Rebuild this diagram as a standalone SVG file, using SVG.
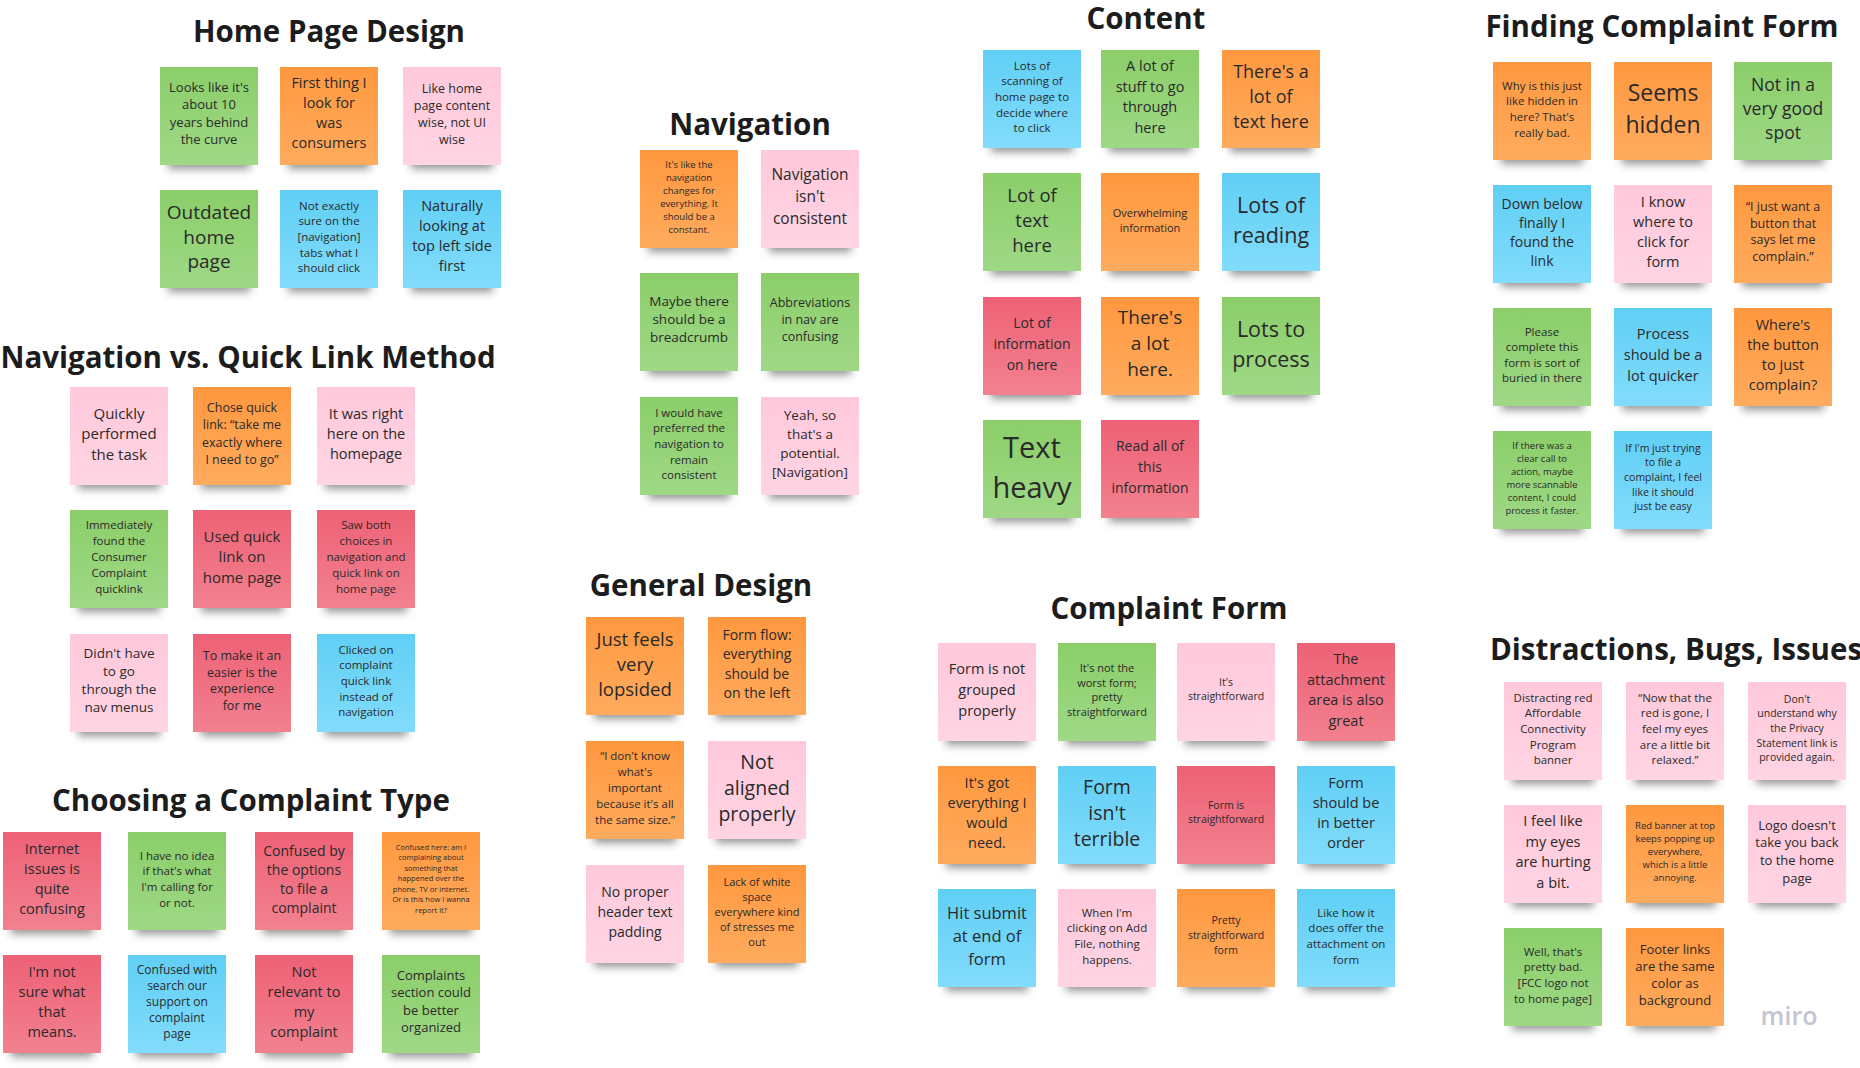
<svg xmlns="http://www.w3.org/2000/svg" width="1860" height="1068" viewBox="0 0 1860 1068">
<defs>
<linearGradient id="gG" x1="0" y1="0" x2="0" y2="1"><stop offset="0" stop-color="#8bce69"/><stop offset="1" stop-color="#9fd886"/></linearGradient>
<linearGradient id="gO" x1="0" y1="0" x2="0" y2="1"><stop offset="0" stop-color="#ff983f"/><stop offset="1" stop-color="#ffab5e"/></linearGradient>
<linearGradient id="gP" x1="0" y1="0" x2="0" y2="1"><stop offset="0" stop-color="#ffc9db"/><stop offset="1" stop-color="#ffd4e3"/></linearGradient>
<linearGradient id="gR" x1="0" y1="0" x2="0" y2="1"><stop offset="0" stop-color="#ee6176"/><stop offset="1" stop-color="#f2818f"/></linearGradient>
<linearGradient id="gB" x1="0" y1="0" x2="0" y2="1"><stop offset="0" stop-color="#60cff5"/><stop offset="1" stop-color="#82dcfb"/></linearGradient>
<filter id="blur" x="-20%" y="-100%" width="140%" height="300%"><feGaussianBlur stdDeviation="4"/></filter>
</defs>
<style>
.s{fill:#2a2a2a;opacity:.5;filter:url(#blur)}
.n{width:98px;height:98px}
.g{fill:url(#gG)}.o{fill:url(#gO)}.p{fill:url(#gP)}.r{fill:url(#gR)}.b{fill:url(#gB)}
.t{font-family:"Open Sans","Noto Sans","Liberation Sans",sans-serif;fill:#2a2a2a;text-anchor:middle;dominant-baseline:central;transform:translateY(-3px)}
.h{font-family:"Open Sans","Noto Sans","Liberation Sans",sans-serif;font-weight:700;font-size:29.5px;fill:#1c1c1c;text-anchor:middle}
.sr{width:82px;height:16px}
</style>
<rect width="1860" height="1068" fill="#ffffff"/>

<g id="headings">
<text class="h" x="329" y="42">Home Page Design</text>
<text class="h" x="248" y="368">Navigation vs. Quick Link Method</text>
<text class="h" x="251" y="811">Choosing a Complaint Type</text>
<text class="h" x="750" y="135">Navigation</text>
<text class="h" x="701" y="596">General Design</text>
<text class="h" x="1146" y="29">Content</text>
<text class="h" x="1169" y="619">Complaint Form</text>
<text class="h" x="1662" y="37">Finding Complaint Form</text>
<text class="h" x="1490" y="660" style="text-anchor:start">Distractions, Bugs, Issues</text>
</g>

<g id="connectors"></g>

<!-- Home Page Design -->
<g id="hp1"><rect class="s sr" x="168" y="153"/><rect class="n g" x="160" y="67"/><text class="t" x="209" y="89.75" font-size="13"><tspan x="209">Looks like it's</tspan><tspan x="209" dy="17.5">about 10</tspan><tspan x="209" dy="17.5">years behind</tspan><tspan x="209" dy="17.5">the curve</tspan></text></g>
<g id="hp2"><rect class="s sr" x="288" y="153"/><rect class="n o" x="280" y="67"/><text class="t" x="329" y="85" font-size="14.5"><tspan x="329">First thing I</tspan><tspan x="329" dy="20">look for</tspan><tspan x="329" dy="20">was</tspan><tspan x="329" dy="20">consumers</tspan></text></g>
<g id="hp3"><rect class="s sr" x="411" y="153"/><rect class="n p" x="403" y="67"/><text class="t" x="452" y="90.5" font-size="12.5"><tspan x="452">Like home</tspan><tspan x="452" dy="17">page content</tspan><tspan x="452" dy="17">wise, not UI</tspan><tspan x="452" dy="17">wise</tspan></text></g>
<g id="hp4"><rect class="s sr" x="168" y="276"/><rect class="n g" x="160" y="190"/><text class="t" x="209" y="215" font-size="19"><tspan x="209">Outdated</tspan><tspan x="209" dy="24.5">home</tspan><tspan x="209" dy="24.5">page</tspan></text></g>
<g id="hp5"><rect class="s sr" x="288" y="276"/><rect class="n b" x="280" y="190"/><text class="t" x="329" y="207.6" font-size="11.5"><tspan x="329">Not exactly</tspan><tspan x="329" dy="15.7">sure on the</tspan><tspan x="329" dy="15.7">[navigation]</tspan><tspan x="329" dy="15.7">tabs what I</tspan><tspan x="329" dy="15.7">should click</tspan></text></g>
<g id="hp6"><rect class="s sr" x="411" y="276"/><rect class="n b" x="403" y="190"/><text class="t" x="452" y="208" font-size="14.5"><tspan x="452">Naturally</tspan><tspan x="452" dy="20">looking at</tspan><tspan x="452" dy="20">top left side</tspan><tspan x="452" dy="20">first</tspan></text></g>

<!-- Navigation vs. Quick Link Method -->
<g id="nq1"><rect class="s sr" x="78" y="473"/><rect class="n p" x="70" y="387"/><text class="t" x="119" y="415.5" font-size="15"><tspan x="119">Quickly</tspan><tspan x="119" dy="20.5">performed</tspan><tspan x="119" dy="20.5">the task</tspan></text></g>
<g id="nq2"><rect class="s sr" x="201" y="473"/><rect class="n o" x="193" y="387"/><text class="t" x="242" y="410" font-size="12.5"><tspan x="242">Chose quick</tspan><tspan x="242" dy="17.3">link: “take me</tspan><tspan x="242" dy="17.3">exactly where</tspan><tspan x="242" dy="17.3">I need to go”</tspan></text></g>
<g id="nq3"><rect class="s sr" x="325" y="473"/><rect class="n p" x="317" y="387"/><text class="t" x="366" y="416" font-size="14.5"><tspan x="366">It was right</tspan><tspan x="366" dy="20">here on the</tspan><tspan x="366" dy="20">homepage</tspan></text></g>
<g id="nq4"><rect class="s sr" x="78" y="596"/><rect class="n g" x="70" y="510"/><text class="t" x="119" y="527" font-size="11.5"><tspan x="119">Immediately</tspan><tspan x="119" dy="16">found the</tspan><tspan x="119" dy="16">Consumer</tspan><tspan x="119" dy="16">Complaint</tspan><tspan x="119" dy="16">quicklink</tspan></text></g>
<g id="nq5"><rect class="s sr" x="201" y="596"/><rect class="n r" x="193" y="510"/><text class="t" x="242" y="538.5" font-size="15"><tspan x="242">Used quick</tspan><tspan x="242" dy="20.5">link on</tspan><tspan x="242" dy="20.5">home page</tspan></text></g>
<g id="nq6"><rect class="s sr" x="325" y="596"/><rect class="n r" x="317" y="510"/><text class="t" x="366" y="527" font-size="11.5"><tspan x="366">Saw both</tspan><tspan x="366" dy="16">choices in</tspan><tspan x="366" dy="16">navigation and</tspan><tspan x="366" dy="16">quick link on</tspan><tspan x="366" dy="16">home page</tspan></text></g>
<g id="nq7"><rect class="s sr" x="78" y="720"/><rect class="n p" x="70" y="634"/><text class="t" x="119" y="655.5" font-size="13.5"><tspan x="119">Didn't have</tspan><tspan x="119" dy="18.3">to go</tspan><tspan x="119" dy="18.3">through the</tspan><tspan x="119" dy="18.3">nav menus</tspan></text></g>
<g id="nq8"><rect class="s sr" x="201" y="720"/><rect class="n r" x="193" y="634"/><text class="t" x="242" y="658" font-size="12.5"><tspan x="242">To make it an</tspan><tspan x="242" dy="16.7">easier is the</tspan><tspan x="242" dy="16.7">experience</tspan><tspan x="242" dy="16.7">for me</tspan></text></g>
<g id="nq9"><rect class="s sr" x="325" y="720"/><rect class="n b" x="317" y="634"/><text class="t" x="366" y="651.6" font-size="11.5"><tspan x="366">Clicked on</tspan><tspan x="366" dy="15.7">complaint</tspan><tspan x="366" dy="15.7">quick link</tspan><tspan x="366" dy="15.7">instead of</tspan><tspan x="366" dy="15.7">navigation</tspan></text></g>

<!-- Choosing a Complaint Type -->
<g id="ct1"><rect class="s sr" x="11" y="918"/><rect class="n r" x="3" y="832"/><text class="t" x="52" y="851" font-size="14.5"><tspan x="52">Internet</tspan><tspan x="52" dy="20">issues is</tspan><tspan x="52" dy="20">quite</tspan><tspan x="52" dy="20">confusing</tspan></text></g>
<g id="ct2"><rect class="s sr" x="136" y="918"/><rect class="n g" x="128" y="832"/><text class="t" x="177" y="857.5" font-size="11.5"><tspan x="177">I have no idea</tspan><tspan x="177" dy="15.7">if that's what</tspan><tspan x="177" dy="15.7">I'm calling for</tspan><tspan x="177" dy="15.7">or not.</tspan></text></g>
<g id="ct3"><rect class="s sr" x="263" y="918"/><rect class="n r" x="255" y="832"/><text class="t" x="304" y="852.5" font-size="14"><tspan x="304">Confused by</tspan><tspan x="304" dy="19">the options</tspan><tspan x="304" dy="19">to file a</tspan><tspan x="304" dy="19">complaint</tspan></text></g>
<g id="ct4"><rect class="s sr" x="390" y="918"/><rect class="n o" x="382" y="832"/><text class="t" x="431" y="849.5" font-size="7.5"><tspan x="431">Confused here: am I</tspan><tspan x="431" dy="10.5">complaining about</tspan><tspan x="431" dy="10.5">something that</tspan><tspan x="431" dy="10.5">happened over the</tspan><tspan x="431" dy="10.5">phone, TV or internet.</tspan><tspan x="431" dy="10.5">Or is this how I wanna</tspan><tspan x="431" dy="10.5">report it?</tspan></text></g>
<g id="ct5"><rect class="s sr" x="11" y="1041"/><rect class="n r" x="3" y="955"/><text class="t" x="52" y="974" font-size="14.5"><tspan x="52">I'm not</tspan><tspan x="52" dy="20">sure what</tspan><tspan x="52" dy="20">that</tspan><tspan x="52" dy="20">means.</tspan></text></g>
<g id="ct6"><rect class="s sr" x="136" y="1041"/><rect class="n b" x="128" y="955"/><text class="t" x="177" y="972" font-size="12"><tspan x="177">Confused with</tspan><tspan x="177" dy="16">search our</tspan><tspan x="177" dy="16">support on</tspan><tspan x="177" dy="16">complaint</tspan><tspan x="177" dy="16">page</tspan></text></g>
<g id="ct7"><rect class="s sr" x="263" y="1041"/><rect class="n r" x="255" y="955"/><text class="t" x="304" y="974" font-size="14.5"><tspan x="304">Not</tspan><tspan x="304" dy="20">relevant to</tspan><tspan x="304" dy="20">my</tspan><tspan x="304" dy="20">complaint</tspan></text></g>
<g id="ct8"><rect class="s sr" x="390" y="1041"/><rect class="n g" x="382" y="955"/><text class="t" x="431" y="978" font-size="13"><tspan x="431">Complaints</tspan><tspan x="431" dy="17.3">section could</tspan><tspan x="431" dy="17.3">be better</tspan><tspan x="431" dy="17.3">organized</tspan></text></g>

<!-- Navigation -->
<g id="nv1"><rect class="s sr" x="648" y="236"/><rect class="n o" x="640" y="150"/><text class="t" x="689" y="166.5" font-size="9.5"><tspan x="689">It's like the</tspan><tspan x="689" dy="13">navigation</tspan><tspan x="689" dy="13">changes for</tspan><tspan x="689" dy="13">everything. It</tspan><tspan x="689" dy="13">should be a</tspan><tspan x="689" dy="13">constant.</tspan></text></g>
<g id="nv2"><rect class="s sr" x="769" y="236"/><rect class="n p" x="761" y="150"/><text class="t" x="810" y="177.3" font-size="15.5"><tspan x="810">Navigation</tspan><tspan x="810" dy="21.7">isn't</tspan><tspan x="810" dy="21.7">consistent</tspan></text></g>
<g id="nv3"><rect class="s sr" x="648" y="359"/><rect class="n g" x="640" y="273"/><text class="t" x="689" y="303.7" font-size="13.5"><tspan x="689">Maybe there</tspan><tspan x="689" dy="18.3">should be a</tspan><tspan x="689" dy="18.3">breadcrumb</tspan></text></g>
<g id="nv4"><rect class="s sr" x="769" y="359"/><rect class="n g" x="761" y="273"/><text class="t" x="810" y="305.3" font-size="12.5"><tspan x="810">Abbreviations</tspan><tspan x="810" dy="16.7">in nav are</tspan><tspan x="810" dy="16.7">confusing</tspan></text></g>
<g id="nv5"><rect class="s sr" x="648" y="483"/><rect class="n g" x="640" y="397"/><text class="t" x="689" y="414.6" font-size="11.5"><tspan x="689">I would have</tspan><tspan x="689" dy="15.7">preferred the</tspan><tspan x="689" dy="15.7">navigation to</tspan><tspan x="689" dy="15.7">remain</tspan><tspan x="689" dy="15.7">consistent</tspan></text></g>
<g id="nv6"><rect class="s sr" x="769" y="483"/><rect class="n p" x="761" y="397"/><text class="t" x="810" y="417.5" font-size="13.5"><tspan x="810">Yeah, so</tspan><tspan x="810" dy="19">that's a</tspan><tspan x="810" dy="19">potential.</tspan><tspan x="810" dy="19">[Navigation]</tspan></text></g>

<!-- General Design -->
<g id="gd1"><rect class="s sr" x="594" y="703"/><rect class="n o" x="586" y="617"/><text class="t" x="635" y="641" font-size="18.5"><tspan x="635">Just feels</tspan><tspan x="635" dy="25">very</tspan><tspan x="635" dy="25">lopsided</tspan></text></g>
<g id="gd2"><rect class="s sr" x="716" y="703"/><rect class="n o" x="708" y="617"/><text class="t" x="757" y="637" font-size="14"><tspan x="757">Form flow:</tspan><tspan x="757" dy="19.3">everything</tspan><tspan x="757" dy="19.3">should be</tspan><tspan x="757" dy="19.3">on the left</tspan></text></g>
<g id="gd3"><rect class="s sr" x="594" y="827"/><rect class="n o" x="586" y="741"/><text class="t" x="635" y="758" font-size="11.5"><tspan x="635">“I don't know</tspan><tspan x="635" dy="16">what's</tspan><tspan x="635" dy="16">important</tspan><tspan x="635" dy="16">because it's all</tspan><tspan x="635" dy="16">the same size.”</tspan></text></g>
<g id="gd4"><rect class="s sr" x="716" y="827"/><rect class="n p" x="708" y="741"/><text class="t" x="757" y="764" font-size="19.5"><tspan x="757">Not</tspan><tspan x="757" dy="26">aligned</tspan><tspan x="757" dy="26">properly</tspan></text></g>
<g id="gd5"><rect class="s sr" x="594" y="951"/><rect class="n p" x="586" y="865"/><text class="t" x="635" y="894" font-size="14"><tspan x="635">No proper</tspan><tspan x="635" dy="20">header text</tspan><tspan x="635" dy="20">padding</tspan></text></g>
<g id="gd6"><rect class="s sr" x="716" y="951"/><rect class="n o" x="708" y="865"/><text class="t" x="757" y="884" font-size="11"><tspan x="757">Lack of white</tspan><tspan x="757" dy="15">space</tspan><tspan x="757" dy="15">everywhere kind</tspan><tspan x="757" dy="15">of stresses me</tspan><tspan x="757" dy="15">out</tspan></text></g>

<!-- Content -->
<g id="cn1"><rect class="s sr" x="991" y="136"/><rect class="n b" x="983" y="50"/><text class="t" x="1032" y="67.6" font-size="11.5"><tspan x="1032">Lots of</tspan><tspan x="1032" dy="15.7">scanning of</tspan><tspan x="1032" dy="15.7">home page to</tspan><tspan x="1032" dy="15.7">decide where</tspan><tspan x="1032" dy="15.7">to click</tspan></text></g>
<g id="cn2"><rect class="s sr" x="1109" y="136"/><rect class="n g" x="1101" y="50"/><text class="t" x="1150" y="68" font-size="14.5"><tspan x="1150">A lot of</tspan><tspan x="1150" dy="20.7">stuff to go</tspan><tspan x="1150" dy="20.7">through</tspan><tspan x="1150" dy="20.7">here</tspan></text></g>
<g id="cn3"><rect class="s sr" x="1230" y="136"/><rect class="n o" x="1222" y="50"/><text class="t" x="1271" y="74" font-size="18"><tspan x="1271">There's a</tspan><tspan x="1271" dy="25">lot of</tspan><tspan x="1271" dy="25">text here</tspan></text></g>
<g id="cn4"><rect class="s sr" x="991" y="259"/><rect class="n g" x="983" y="173"/><text class="t" x="1032" y="197" font-size="18.5"><tspan x="1032">Lot of</tspan><tspan x="1032" dy="25">text</tspan><tspan x="1032" dy="25">here</tspan></text></g>
<g id="cn5"><rect class="s sr" x="1109" y="259"/><rect class="n o" x="1101" y="173"/><text class="t" x="1150" y="214.5" font-size="11"><tspan x="1150">Overwhelming</tspan><tspan x="1150" dy="15">information</tspan></text></g>
<g id="cn6"><rect class="s sr" x="1230" y="259"/><rect class="n b" x="1222" y="173"/><text class="t" x="1271" y="207" font-size="21.5"><tspan x="1271">Lots of</tspan><tspan x="1271" dy="30">reading</tspan></text></g>
<g id="cn7"><rect class="s sr" x="991" y="383"/><rect class="n r" x="983" y="297"/><text class="t" x="1032" y="325.3" font-size="14"><tspan x="1032">Lot of</tspan><tspan x="1032" dy="20.7">information</tspan><tspan x="1032" dy="20.7">on here</tspan></text></g>
<g id="cn8"><rect class="s sr" x="1109" y="383"/><rect class="n o" x="1101" y="297"/><text class="t" x="1150" y="320" font-size="19"><tspan x="1150">There's</tspan><tspan x="1150" dy="26">a lot</tspan><tspan x="1150" dy="26">here.</tspan></text></g>
<g id="cn9"><rect class="s sr" x="1230" y="383"/><rect class="n g" x="1222" y="297"/><text class="t" x="1271" y="331" font-size="21.5"><tspan x="1271">Lots to</tspan><tspan x="1271" dy="30">process</tspan></text></g>
<g id="cn10"><rect class="s sr" x="991" y="506"/><rect class="n g" x="983" y="420"/><text class="t" x="1032" y="449" font-size="29"><tspan x="1032">Text</tspan><tspan x="1032" dy="40">heavy</tspan></text></g>
<g id="cn11"><rect class="s sr" x="1109" y="506"/><rect class="n r" x="1101" y="420"/><text class="t" x="1150" y="448.3" font-size="14"><tspan x="1150">Read all of</tspan><tspan x="1150" dy="20.7">this</tspan><tspan x="1150" dy="20.7">information</tspan></text></g>

<!-- Complaint Form -->
<g id="cf1"><rect class="s sr" x="946" y="729"/><rect class="n p" x="938" y="643"/><text class="t" x="987" y="671.3" font-size="14.5"><tspan x="987">Form is not</tspan><tspan x="987" dy="20.7">grouped</tspan><tspan x="987" dy="20.7">properly</tspan></text></g>
<g id="cf2"><rect class="s sr" x="1066" y="729"/><rect class="n g" x="1058" y="643"/><text class="t" x="1107" y="670" font-size="11"><tspan x="1107">It's not the</tspan><tspan x="1107" dy="14.7">worst form;</tspan><tspan x="1107" dy="14.7">pretty</tspan><tspan x="1107" dy="14.7">straightforward</tspan></text></g>
<g id="cf3"><rect class="s sr" x="1185" y="729"/><rect class="n p" x="1177" y="643"/><text class="t" x="1226" y="685" font-size="10.5"><tspan x="1226">It's</tspan><tspan x="1226" dy="14">straightforward</tspan></text></g>
<g id="cf4"><rect class="s sr" x="1305" y="729"/><rect class="n r" x="1297" y="643"/><text class="t" x="1346" y="661" font-size="14.5"><tspan x="1346">The</tspan><tspan x="1346" dy="20.7">attachment</tspan><tspan x="1346" dy="20.7">area is also</tspan><tspan x="1346" dy="20.7">great</tspan></text></g>
<g id="cf5"><rect class="s sr" x="946" y="852"/><rect class="n o" x="938" y="766"/><text class="t" x="987" y="785" font-size="14.5"><tspan x="987">It's got</tspan><tspan x="987" dy="20">everything I</tspan><tspan x="987" dy="20">would</tspan><tspan x="987" dy="20">need.</tspan></text></g>
<g id="cf6"><rect class="s sr" x="1066" y="852"/><rect class="n b" x="1058" y="766"/><text class="t" x="1107" y="789" font-size="19.5"><tspan x="1107">Form</tspan><tspan x="1107" dy="26">isn't</tspan><tspan x="1107" dy="26">terrible</tspan></text></g>
<g id="cf7"><rect class="s sr" x="1185" y="852"/><rect class="n r" x="1177" y="766"/><text class="t" x="1226" y="807.8" font-size="10.5"><tspan x="1226">Form is</tspan><tspan x="1226" dy="14.3">straightforward</tspan></text></g>
<g id="cf8"><rect class="s sr" x="1305" y="852"/><rect class="n b" x="1297" y="766"/><text class="t" x="1346" y="785" font-size="14.5"><tspan x="1346">Form</tspan><tspan x="1346" dy="20">should be</tspan><tspan x="1346" dy="20">in better</tspan><tspan x="1346" dy="20">order</tspan></text></g>
<g id="cf9"><rect class="s sr" x="946" y="975"/><rect class="n b" x="938" y="889"/><text class="t" x="987" y="915.3" font-size="16.5"><tspan x="987">Hit submit</tspan><tspan x="987" dy="22.7">at end of</tspan><tspan x="987" dy="22.7">form</tspan></text></g>
<g id="cf10"><rect class="s sr" x="1066" y="975"/><rect class="n p" x="1058" y="889"/><text class="t" x="1107" y="914.5" font-size="11.5"><tspan x="1107">When I'm</tspan><tspan x="1107" dy="15.7">clicking on Add</tspan><tspan x="1107" dy="15.7">File, nothing</tspan><tspan x="1107" dy="15.7">happens.</tspan></text></g>
<g id="cf11"><rect class="s sr" x="1185" y="975"/><rect class="n o" x="1177" y="889"/><text class="t" x="1226" y="923.3" font-size="10.5"><tspan x="1226">Pretty</tspan><tspan x="1226" dy="14.7">straightforward</tspan><tspan x="1226" dy="14.7">form</tspan></text></g>
<g id="cf12"><rect class="s sr" x="1305" y="975"/><rect class="n b" x="1297" y="889"/><text class="t" x="1346" y="914.5" font-size="11.5"><tspan x="1346">Like how it</tspan><tspan x="1346" dy="15.7">does offer the</tspan><tspan x="1346" dy="15.7">attachment on</tspan><tspan x="1346" dy="15.7">form</tspan></text></g>

<!-- Finding Complaint Form -->
<g id="fc1"><rect class="s sr" x="1501" y="148"/><rect class="n o" x="1493" y="62"/><text class="t" x="1542" y="87.5" font-size="11.5"><tspan x="1542">Why is this just</tspan><tspan x="1542" dy="15.7">like hidden in</tspan><tspan x="1542" dy="15.7">here? That's</tspan><tspan x="1542" dy="15.7">really bad.</tspan></text></g>
<g id="fc2"><rect class="s sr" x="1622" y="148"/><rect class="n o" x="1614" y="62"/><text class="t" x="1663" y="95" font-size="23"><tspan x="1663">Seems</tspan><tspan x="1663" dy="31.7">hidden</tspan></text></g>
<g id="fc3"><rect class="s sr" x="1742" y="148"/><rect class="n g" x="1734" y="62"/><text class="t" x="1783" y="87" font-size="17.5"><tspan x="1783">Not in a</tspan><tspan x="1783" dy="24">very good</tspan><tspan x="1783" dy="24">spot</tspan></text></g>
<g id="fc4"><rect class="s sr" x="1501" y="271"/><rect class="n b" x="1493" y="185"/><text class="t" x="1542" y="205.5" font-size="14"><tspan x="1542">Down below</tspan><tspan x="1542" dy="19">finally I</tspan><tspan x="1542" dy="19">found the</tspan><tspan x="1542" dy="19">link</tspan></text></g>
<g id="fc5"><rect class="s sr" x="1622" y="271"/><rect class="n p" x="1614" y="185"/><text class="t" x="1663" y="203.5" font-size="14.5"><tspan x="1663">I know</tspan><tspan x="1663" dy="20.3">where to</tspan><tspan x="1663" dy="20.3">click for</tspan><tspan x="1663" dy="20.3">form</tspan></text></g>
<g id="fc6"><rect class="s sr" x="1742" y="271"/><rect class="n o" x="1734" y="185"/><text class="t" x="1783" y="209" font-size="12.5"><tspan x="1783">“I just want a</tspan><tspan x="1783" dy="16.7">button that</tspan><tspan x="1783" dy="16.7">says let me</tspan><tspan x="1783" dy="16.7">complain.”</tspan></text></g>
<g id="fc7"><rect class="s sr" x="1501" y="394"/><rect class="n g" x="1493" y="308"/><text class="t" x="1542" y="334" font-size="11.5"><tspan x="1542">Please</tspan><tspan x="1542" dy="15.3">complete this</tspan><tspan x="1542" dy="15.3">form is sort of</tspan><tspan x="1542" dy="15.3">buried in there</tspan></text></g>
<g id="fc8"><rect class="s sr" x="1622" y="394"/><rect class="n b" x="1614" y="308"/><text class="t" x="1663" y="336.3" font-size="14.5"><tspan x="1663">Process</tspan><tspan x="1663" dy="20.7">should be a</tspan><tspan x="1663" dy="20.7">lot quicker</tspan></text></g>
<g id="fc9"><rect class="s sr" x="1742" y="394"/><rect class="n o" x="1734" y="308"/><text class="t" x="1783" y="326.5" font-size="14.5"><tspan x="1783">Where's</tspan><tspan x="1783" dy="20.3">the button</tspan><tspan x="1783" dy="20.3">to just</tspan><tspan x="1783" dy="20.3">complain?</tspan></text></g>
<g id="fc10"><rect class="s sr" x="1501" y="517"/><rect class="n g" x="1493" y="431"/><text class="t" x="1542" y="447.5" font-size="9.5"><tspan x="1542">If there was a</tspan><tspan x="1542" dy="13">clear call to</tspan><tspan x="1542" dy="13">action, maybe</tspan><tspan x="1542" dy="13">more scannable</tspan><tspan x="1542" dy="13">content, I could</tspan><tspan x="1542" dy="13">process it faster.</tspan></text></g>
<g id="fc11"><rect class="s sr" x="1622" y="517"/><rect class="n b" x="1614" y="431"/><text class="t" x="1663" y="450.6" font-size="10.5"><tspan x="1663">If I'm just trying</tspan><tspan x="1663" dy="14.7">to file a</tspan><tspan x="1663" dy="14.7">complaint, I feel</tspan><tspan x="1663" dy="14.7">like it should</tspan><tspan x="1663" dy="14.7">just be easy</tspan></text></g>

<!-- Distractions, Bugs, Issues -->
<g id="db1"><rect class="s sr" x="1512" y="768"/><rect class="n p" x="1504" y="682"/><text class="t" x="1553" y="699.6" font-size="11.5"><tspan x="1553">Distracting red</tspan><tspan x="1553" dy="15.7">Affordable</tspan><tspan x="1553" dy="15.7">Connectivity</tspan><tspan x="1553" dy="15.7">Program</tspan><tspan x="1553" dy="15.7">banner</tspan></text></g>
<g id="db2"><rect class="s sr" x="1634" y="768"/><rect class="n p" x="1626" y="682"/><text class="t" x="1675" y="699.6" font-size="11.5"><tspan x="1675">“Now that the</tspan><tspan x="1675" dy="15.7">red is gone, I</tspan><tspan x="1675" dy="15.7">feel my eyes</tspan><tspan x="1675" dy="15.7">are a little bit</tspan><tspan x="1675" dy="15.7">relaxed.”</tspan></text></g>
<g id="db3"><rect class="s sr" x="1756" y="768"/><rect class="n p" x="1748" y="682"/><text class="t" x="1797" y="701.6" font-size="10.5"><tspan x="1797">Don't</tspan><tspan x="1797" dy="14.7">understand why</tspan><tspan x="1797" dy="14.7">the Privacy</tspan><tspan x="1797" dy="14.7">Statement link is</tspan><tspan x="1797" dy="14.7">provided again.</tspan></text></g>
<g id="db4"><rect class="s sr" x="1512" y="891"/><rect class="n p" x="1504" y="805"/><text class="t" x="1553" y="823" font-size="14.5"><tspan x="1553">I feel like</tspan><tspan x="1553" dy="20.7">my eyes</tspan><tspan x="1553" dy="20.7">are hurting</tspan><tspan x="1553" dy="20.7">a bit.</tspan></text></g>
<g id="db5"><rect class="s sr" x="1634" y="891"/><rect class="n o" x="1626" y="805"/><text class="t" x="1675" y="828" font-size="9.5"><tspan x="1675">Red banner at top</tspan><tspan x="1675" dy="13">keeps popping up</tspan><tspan x="1675" dy="13">everywhere,</tspan><tspan x="1675" dy="13">which is a little</tspan><tspan x="1675" dy="13">annoying.</tspan></text></g>
<g id="db6"><rect class="s sr" x="1756" y="891"/><rect class="n p" x="1748" y="805"/><text class="t" x="1797" y="827.5" font-size="13"><tspan x="1797">Logo doesn't</tspan><tspan x="1797" dy="17.7">take you back</tspan><tspan x="1797" dy="17.7">to the home</tspan><tspan x="1797" dy="17.7">page</tspan></text></g>
<g id="db7"><rect class="s sr" x="1512" y="1014"/><rect class="n g" x="1504" y="928"/><text class="t" x="1553" y="953.5" font-size="11.5"><tspan x="1553">Well, that's</tspan><tspan x="1553" dy="15.7">pretty bad.</tspan><tspan x="1553" dy="15.7">[FCC logo not</tspan><tspan x="1553" dy="15.7">to home page]</tspan></text></g>
<g id="db8"><rect class="s sr" x="1634" y="1014"/><rect class="n o" x="1626" y="928"/><text class="t" x="1675" y="951.5" font-size="13"><tspan x="1675">Footer links</tspan><tspan x="1675" dy="17">are the same</tspan><tspan x="1675" dy="17">color as</tspan><tspan x="1675" dy="17">background</tspan></text></g>

<text x="1789" y="1025" font-family="'Open Sans','Noto Sans',sans-serif" font-size="25" font-weight="600" fill="#c4c4d2" text-anchor="middle">miro</text>
</svg>
